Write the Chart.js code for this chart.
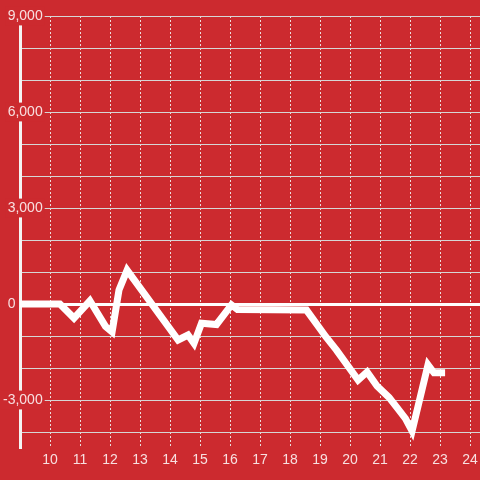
<!DOCTYPE html>
<html>
<head>
<meta charset="utf-8">
<script src="https://cdn.jsdelivr.net/npm/chart.js@4"></script>
<style>
  html, body { margin: 0; padding: 0; background: #cc2a2f; }
  canvas { display: block; }
</style>
</head>
<body>
<canvas id="chart" width="480" height="480"></canvas>
<script>
// hour of day vs value
const hours = [9, 10.33, 10.8, 11.33, 11.85, 12.07, 12.3, 12.57, 14.27, 14.6, 14.8, 15.05,
    15.55, 16.05, 16.25, 18.55, 19.2, 19.55, 20.27, 20.57, 20.9, 21.3, 21.6, 21.85,
    22.07, 22.6, 22.8, 23.17];
const values = [0, 0, -440, 100, -700, -870, 440, 1060, -1125, -970, -1230, -600,
    -640, -30, -170, -190, -1030, -1440, -2375, -2125, -2560, -2920, -3280, -3580,
    -3970, -1900, -2150, -2150];
const xTicks = [10, 11, 12, 13, 14, 15, 16, 17, 18, 19, 20, 21, 22, 23, 24];
const yTicks = [-4000, -3000, -2000, -1000, 0, 1000, 2000, 3000, 4000, 5000, 6000, 7000, 8000, 9000];
const yLabels = [-3000, 0, 3000, 6000, 9000];

const BG = '#cc2a2f';
const TEXT = 'rgba(255,255,255,0.85)';
const FONT = { family: '"Liberation Sans", Arial, sans-serif', size: 14 };

const points = hours.map((h, i) => ({ x: h, y: values[i] }));

new Chart(document.getElementById('chart'), {
    type: 'line',
    data: {
        datasets: [{
            data: points,
            borderColor: '#ffffff',
            borderWidth: 7,
            pointRadius: 0,
            tension: 0,
            fill: false
        }]
    },
    options: {
        responsive: false,
        animation: false,
        devicePixelRatio: 1,
        layout: { padding: { top: 16, left: 0, right: 0, bottom: 0 } },
        plugins: {
            legend: { display: false },
            tooltip: { enabled: false }
        },
        scales: {
            x: {
                type: 'linear',
                min: 9,
                max: 24 + 1 / 3,
                afterBuildTicks(scale) {
                    scale.ticks = xTicks.map(v => ({ value: v }));
                },
                afterFit(scale) {
                    scale.height = 32;
                    scale.paddingLeft = 0;
                    scale.paddingRight = 0;
                },
                ticks: {
                    autoSkip: false,
                    maxRotation: 0,
                    padding: 4,
                    color: TEXT,
                    font: FONT
                },
                grid: {
                    drawTicks: false,
                    lineWidth: 1,
                    color: 'rgba(240,240,240,0.9)'
                },
                border: { display: false, dash: [2, 2] }
            },
            y: {
                min: -4500,
                max: 9000,
                afterBuildTicks(scale) {
                    scale.ticks = yTicks.map(v => ({ value: v }));
                },
                afterFit(scale) {
                    scale.width = 20;
                    scale.paddingTop = 0;
                    scale.paddingBottom = 0;
                },
                ticks: {
                    autoSkip: false,
                    mirror: true,
                    crossAlign: 'far',
                    padding: -17,
                    color: TEXT,
                    font: FONT,
                    showLabelBackdrop: true,
                    backdropPadding: { x: 2, y: 1 },
                    backdropColor: ctx => (yLabels.includes(ctx.tick.value) && ctx.tick.value !== 0) ? BG : 'transparent',
                    callback: v => {
                        if (!yLabels.includes(v)) return '';
                        if (v === 0) return '0       ';
                        return v.toLocaleString('en-US');
                    }
                },
                grid: {
                    drawTicks: false,
                    color: ctx => ctx.tick.value === 0 ? '#ffffff' : '#d6d6d6',
                    lineWidth: ctx => ctx.tick.value === 0 ? 3 : 1
                },
                border: { display: true, color: '#f4f4f4', width: 3 }
            }
        }
    }
});
</script>
</body>
</html>
